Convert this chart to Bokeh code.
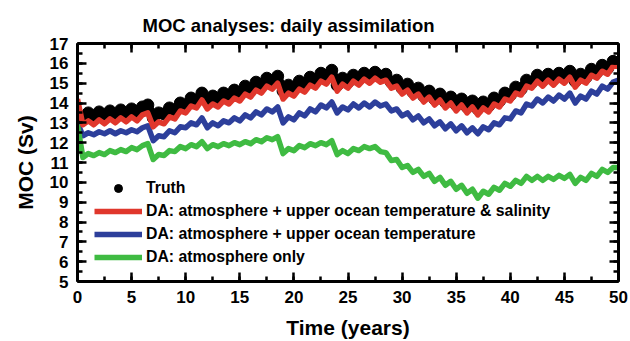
from bokeh.plotting import figure
from bokeh.models import (LinearAxis, SingleIntervalTicker, Range1d, Legend, LegendItem,
                          CustomJSTickFormatter, ColumnDataSource)
from bokeh.embed import file_html
from bokeh.resources import INLINE

# time axis (years), half-year sampling
years = [k / 2 for k in range(101)]

truth = [13.4, 13.3, 13.5, 13.35, 13.55, 13.4, 13.6, 13.45, 13.65, 13.5,
         13.7, 13.55, 13.8, 13.9, 13.25, 13.5, 13.45, 13.75, 13.65, 14.0,
         13.9, 14.25, 14.15, 14.5, 14.1, 14.35, 14.2, 14.5, 14.35, 14.65,
         14.5, 14.85, 14.7, 15.05, 14.9, 15.25, 15.1, 15.35, 14.6, 14.9,
         14.75, 15.1, 14.95, 15.3, 15.15, 15.5, 15.35, 15.65, 14.9, 15.25,
         15.05, 15.4, 15.2, 15.5, 15.3, 15.55, 15.35, 15.45, 15.05, 15.15,
         14.75, 14.95, 14.55, 14.75, 14.35, 14.6, 14.2, 14.45, 14.05, 14.3,
         13.9, 14.2, 13.8, 14.1, 13.7, 14.05, 13.85, 14.25, 14.1, 14.5,
         14.4, 14.8, 14.7, 15.15, 15.05, 15.4, 15.15, 15.45, 15.2, 15.5,
         15.3, 15.6, 15.1, 15.45, 15.3, 15.7, 15.55, 15.9, 15.75, 16.1,
         16.05]

da_ts = [14.2, 12.9, 13.1, 12.9, 13.15, 12.95, 13.2, 13.0, 13.25, 13.05,
         13.3, 13.1, 13.4, 13.5, 12.8, 13.05, 12.95, 13.3, 13.2, 13.6,
         13.5, 13.85, 13.75, 14.15, 13.7, 13.95, 13.8, 14.1, 13.95, 14.25,
         14.1, 14.45, 14.3, 14.65, 14.5, 14.85, 14.7, 15.0, 14.2, 14.5,
         14.35, 14.7, 14.55, 14.9, 14.75, 15.1, 14.95, 15.3, 14.6, 14.95,
         14.75, 15.1, 14.9, 15.2, 15.0, 15.25, 15.05, 15.15, 14.75, 14.85,
         14.45, 14.65, 14.25, 14.45, 14.05, 14.3, 13.9, 14.15, 13.75, 14.0,
         13.6, 13.9, 13.5, 13.8, 13.4, 13.75, 13.55, 13.95, 13.8, 14.2,
         14.1, 14.5, 14.4, 14.85, 14.75, 15.1, 14.85, 15.15, 14.9, 15.2,
         15.0, 15.3, 14.8, 15.15, 15.0, 15.4, 15.25, 15.6, 15.45, 15.85,
         15.85]

da_t = [13.0, 12.35, 12.5, 12.4, 12.55, 12.45, 12.6, 12.45, 12.6, 12.5,
        12.65, 12.55, 12.75, 12.85, 12.1, 12.35, 12.3, 12.6, 12.5, 12.8,
        12.75, 13.0, 12.9, 13.25, 12.75, 13.0, 12.85, 13.1, 13.0, 13.25,
        13.1, 13.4, 13.25, 13.55, 13.4, 13.7, 13.55, 13.8, 13.0, 13.3,
        13.15, 13.5, 13.35, 13.7, 13.55, 13.9, 13.75, 14.05, 13.5, 13.8,
        13.65, 13.95, 13.75, 14.0, 13.8, 14.05, 13.85, 13.95, 13.6, 13.7,
        13.35, 13.5, 13.15, 13.35, 13.0, 13.2, 12.85, 13.05, 12.7, 12.95,
        12.6, 12.85, 12.5, 12.75, 12.45, 12.8, 12.65, 13.0, 12.9, 13.25,
        13.2, 13.6, 13.5, 13.95, 13.85, 14.2, 14.0, 14.3, 14.1, 14.4,
        14.2, 14.5, 14.0, 14.35, 14.2, 14.6, 14.45, 14.85, 14.7, 15.05,
        15.15]

da_atm = [12.9, 11.25, 11.45, 11.35, 11.5, 11.4, 11.6, 11.5, 11.65, 11.55,
          11.75, 11.65, 11.85, 11.95, 11.15, 11.4, 11.35, 11.6, 11.55, 11.8,
          11.7, 11.9, 11.8, 12.05, 11.7, 11.9, 11.8, 11.95, 11.85, 12.0,
          11.9, 12.05, 11.95, 12.15, 12.05, 12.25, 12.15, 12.3, 11.45, 11.7,
          11.6, 11.85, 11.75, 11.95, 11.85, 12.0, 11.9, 12.1, 11.4, 11.6,
          11.45, 11.7, 11.6, 11.8, 11.7, 11.8, 11.55, 11.5, 11.1, 11.15,
          10.75, 10.85, 10.5, 10.65, 10.3, 10.45, 10.05, 10.25, 9.85, 10.05,
          9.65, 9.85, 9.45, 9.65, 9.2, 9.55, 9.4, 9.75, 9.6, 9.95,
          9.8, 10.1, 9.95, 10.3, 10.1, 10.3, 10.1, 10.3, 10.15, 10.35,
          10.2, 10.4, 9.95, 10.25, 10.1, 10.45, 10.3, 10.65, 10.5, 10.75,
          10.75]

labels = ["Truth",
          "DA: atmosphere + upper ocean temperature & salinity",
          "DA: atmosphere + upper ocean temperature",
          "DA: atmosphere only"]
colors = ["black", "#e0372c", "#2d3f9b", "#3fbb42"]

FONT = "Liberation Sans"

src = ColumnDataSource(dict(t=years, truth=truth, ts=da_ts, tt=da_t, atm=da_atm))

p = figure(width=630, height=341, x_range=Range1d(0, 50), y_range=Range1d(5, 17),
           output_backend="svg", toolbar_location=None,
           min_border_left=77, min_border_right=12, min_border_top=43, min_border_bottom=60)
p.grid.visible = False
p.outline_line_color = None

bottom = p.below[0]
left = p.left[0]

p.title.text = "MOC analyses: daily assimilation"
p.title.text_font = FONT
p.title.text_font_style = "bold"
p.title.text_font_size = "18.5px"
p.title.text_color = "black"
p.title.align = "left"
p.title.offset = 65
p.title.standoff = 15

xt = SingleIntervalTicker(interval=5, num_minor_ticks=2)
yt = SingleIntervalTicker(interval=1, num_minor_ticks=2)
bottom.ticker = xt
left.ticker = yt

top = LinearAxis(ticker=xt, formatter=CustomJSTickFormatter(code="return ''"))
right = LinearAxis(ticker=yt, formatter=CustomJSTickFormatter(code="return ''"))
p.add_layout(top, "above")
p.add_layout(right, "right")

for ax in [bottom, left, top, right]:
    ax.axis_line_width = 3
    ax.axis_line_color = "black"
    ax.major_tick_line_width = 2.5
    ax.minor_tick_line_width = 2.5
    ax.major_tick_line_color = "black"
    ax.minor_tick_line_color = "black"
    ax.major_tick_in = 9
    ax.major_tick_out = 0
    ax.minor_tick_in = 5
    ax.minor_tick_out = 0
    ax.major_label_text_font = FONT
    ax.major_label_text_font_style = "bold"
    ax.major_label_text_font_size = "17px"
    ax.major_label_text_color = "black"

top.major_label_standoff = 0
right.major_label_standoff = 0

bottom.axis_label = "Time (years)"
left.axis_label = "MOC (Sv)"
for ax in [bottom, left]:
    ax.axis_label_text_font = FONT
    ax.axis_label_text_font_style = "bold"
    ax.axis_label_text_font_size = "21px"
    ax.axis_label_text_color = "black"
bottom.major_label_standoff = 9
left.major_label_standoff = 9
bottom.axis_label_standoff = 10
left.axis_label_standoff = 10

r_truth_line = p.line("t", "truth", source=src, line_color="black", line_width=9, line_join="round")
r_truth = p.scatter("t", "truth", source=src, size=12, color="black")
r_t = p.line("t", "tt", source=src, line_color=colors[2], line_width=5.5, line_join="round")
r_atm = p.line("t", "atm", source=src, line_color=colors[3], line_width=5.5, line_join="round")
r_ts = p.line("t", "ts", source=src, line_color=colors[1], line_width=5.5, line_join="round")

legend = Legend(items=[LegendItem(label=labels[0], renderers=[r_truth]),
                       LegendItem(label=labels[1], renderers=[r_ts]),
                       LegendItem(label=labels[2], renderers=[r_t]),
                       LegendItem(label=labels[3], renderers=[r_atm])],
                location=(17, 14), padding=0, margin=0, spacing=3,
                glyph_width=48, glyph_height=20, label_height=20, label_standoff=4,
                border_line_color=None, background_fill_alpha=0,
                label_text_font=FONT, label_text_font_style="bold",
                label_text_font_size="15.8px", label_text_color="black")
p.add_layout(legend)

open("out.html", "w").write(file_html(p, INLINE))
